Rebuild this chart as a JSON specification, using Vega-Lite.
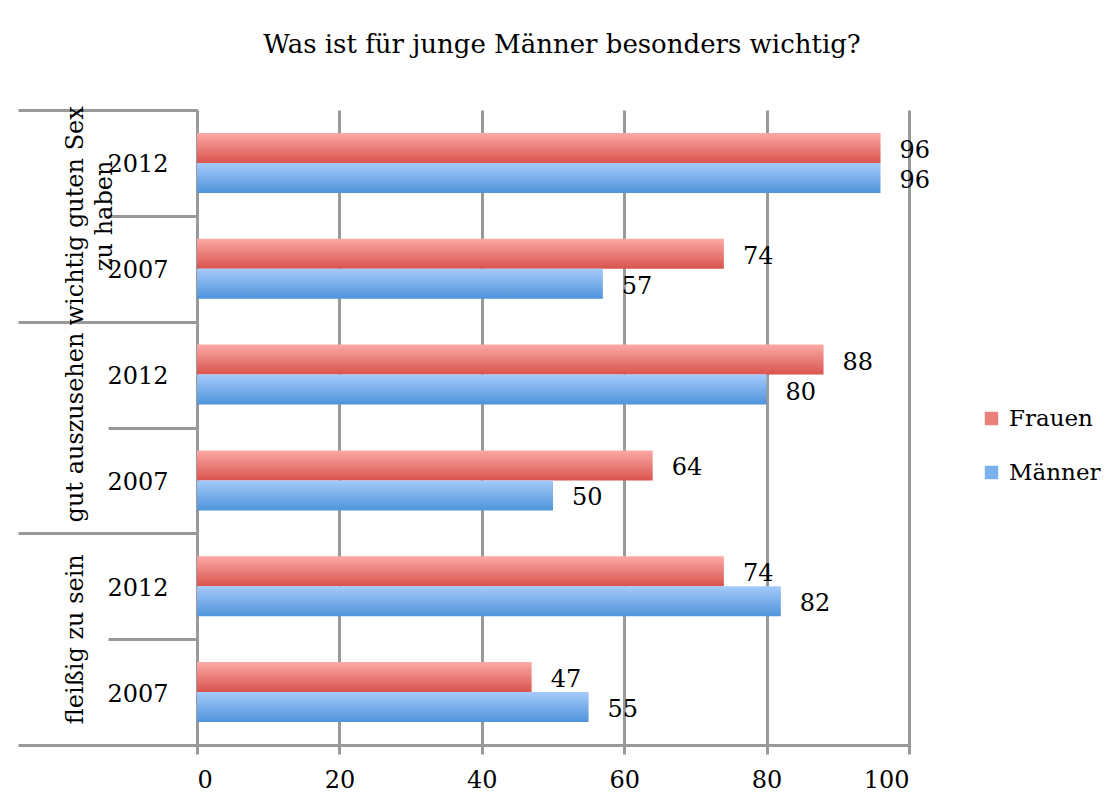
{
  "$schema": "https://vega.github.io/schema/vega-lite/v6.json",
  "autosize": {"type": "none"},
  "width": 712,
  "height": 635,
  "padding": {"left": 197, "top": 110, "right": 206, "bottom": 62},
  "background": "white",
  "title": {
    "text": "Was ist für junge Männer besonders wichtig?",
    "fontSize": 26,
    "fontWeight": "normal",
    "color": "black",
    "offset": 40,
    "dx": 9
  },
  "config": {"font": "DejaVu Serif", "view": {"stroke": null}},
  "data": {
    "values": [
      {"cat": "wichtig guten Sex|zu haben", "key": "A 2012", "year": "2012", "series": "Frauen", "value": 96},
      {"cat": "wichtig guten Sex|zu haben", "key": "A 2012", "year": "2012", "series": "Männer", "value": 96},
      {"cat": "wichtig guten Sex|zu haben", "key": "A 2007", "year": "2007", "series": "Frauen", "value": 74},
      {"cat": "wichtig guten Sex|zu haben", "key": "A 2007", "year": "2007", "series": "Männer", "value": 57},
      {"cat": "gut auszusehen", "key": "B 2012", "year": "2012", "series": "Frauen", "value": 88},
      {"cat": "gut auszusehen", "key": "B 2012", "year": "2012", "series": "Männer", "value": 80},
      {"cat": "gut auszusehen", "key": "B 2007", "year": "2007", "series": "Frauen", "value": 64},
      {"cat": "gut auszusehen", "key": "B 2007", "year": "2007", "series": "Männer", "value": 50},
      {"cat": "fleißig zu sein", "key": "C 2012", "year": "2012", "series": "Frauen", "value": 74},
      {"cat": "fleißig zu sein", "key": "C 2012", "year": "2012", "series": "Männer", "value": 82},
      {"cat": "fleißig zu sein", "key": "C 2007", "year": "2007", "series": "Frauen", "value": 47},
      {"cat": "fleißig zu sein", "key": "C 2007", "year": "2007", "series": "Männer", "value": 55}
    ]
  },
  "encoding": {
    "y": {
      "field": "key",
      "type": "nominal",
      "scale": {
        "domain": ["A 2012", "A 2007", "B 2012", "B 2007", "C 2012", "C 2007"],
        "paddingInner": 0,
        "paddingOuter": 0
      },
      "axis": {
        "title": null,
        "labelExpr": "datum.value ? slice(datum.value, -4) : ''",
        "tickBand": "extent",
        "tickSize": {"condition": {"test": "datum.extra || (datum.value && indexof(datum.value, '2007') >= 0)", "value": 179}, "value": 89},
        "labelPadding": {"condition": {"test": "datum.value && indexof(datum.value, '2007') >= 0", "value": -150}, "value": -60},
        "tickColor": "#999999",
        "tickWidth": 3,
        "domainColor": "#999999",
        "domainWidth": 3,
        "labelFontSize": 24,
        "labelColor": "black",
        "labelAlign": "right",
        "labelBaseline": "middle",
        "labelOffset": 2,
        "labelOverlap": false,
        "grid": false
      }
    },
    "x": {
      "field": "value",
      "type": "quantitative",
      "scale": {"domain": [0, 100]},
      "axis": {
        "title": null,
        "values": [0, 20, 40, 60, 80, 100],
        "grid": true,
        "gridColor": "#999999",
        "gridWidth": 3,
        "tickSize": 9,
        "tickColor": "#999999",
        "tickWidth": 3,
        "domainColor": "#999999",
        "domainWidth": 3,
        "labelFontSize": 24,
        "labelColor": "black",
        "labelPadding": 14
      }
    }
  },
  "layer": [
    {
      "transform": [{"filter": "datum.series === 'Frauen'"}],
      "mark": {
        "type": "bar",
        "fill": {"gradient": "linear", "x1": 0, "y1": 0, "x2": 0, "y2": 1, "stops": [{"offset": 0, "color": "#fbaaa6"}, {"offset": 1, "color": "#d9534d"}]}
      },
      "encoding": {
        "yOffset": {"field": "series", "type": "nominal", "scale": {"domain": ["Frauen", "Männer"], "paddingInner": 0, "paddingOuter": 0.763}}
      }
    },
    {
      "transform": [{"filter": "datum.series === 'Männer'"}],
      "mark": {
        "type": "bar",
        "fill": {"gradient": "linear", "x1": 0, "y1": 0, "x2": 0, "y2": 1, "stops": [{"offset": 0, "color": "#a5cafb"}, {"offset": 1, "color": "#4f94da"}]}
      },
      "encoding": {
        "yOffset": {"field": "series", "type": "nominal", "scale": {"domain": ["Frauen", "Männer"], "paddingInner": 0, "paddingOuter": 0.763}}
      }
    },
    {
      "mark": {"type": "text", "align": "left", "baseline": "middle", "dx": 19, "dy": 3, "fontSize": 24, "color": "black"},
      "encoding": {
        "yOffset": {"field": "series", "type": "nominal", "scale": {"domain": ["Frauen", "Männer"], "paddingInner": 0, "paddingOuter": 0.763}},
        "text": {"field": "value", "type": "quantitative"}
      }
    },
    {
      "transform": [{"filter": "datum.series === 'Frauen' && datum.year === '2012'"}],
      "mark": {"type": "text", "angle": 270, "align": "center", "baseline": "bottom", "lineBreak": "|", "lineHeight": 29, "fontSize": 24, "color": "black"},
      "encoding": {
        "y": {"field": "key", "type": "nominal", "bandPosition": 1},
        "x": {"datum": -15.3, "type": "quantitative"},
        "text": {"field": "cat", "type": "nominal"}
      }
    },
    {
      "mark": {"type": "point", "shape": "square", "filled": true, "opacity": 0},
      "encoding": {
        "color": {
          "field": "series",
          "type": "nominal",
          "scale": {"domain": ["Frauen", "Männer"], "range": ["#e9807a", "#7ab0ec"]},
          "legend": {
            "title": null,
            "orient": "none",
            "legendX": 783,
            "legendY": 297,
            "symbolType": "square",
            "symbolSize": 180,
            "symbolStrokeWidth": 0,
            "symbolOpacity": 1,
            "labelFontSize": 23,
            "labelColor": "black",
            "rowPadding": 30,
            "labelOffset": 6,
            "padding": 0
          }
        }
      }
    }
  ]
}
